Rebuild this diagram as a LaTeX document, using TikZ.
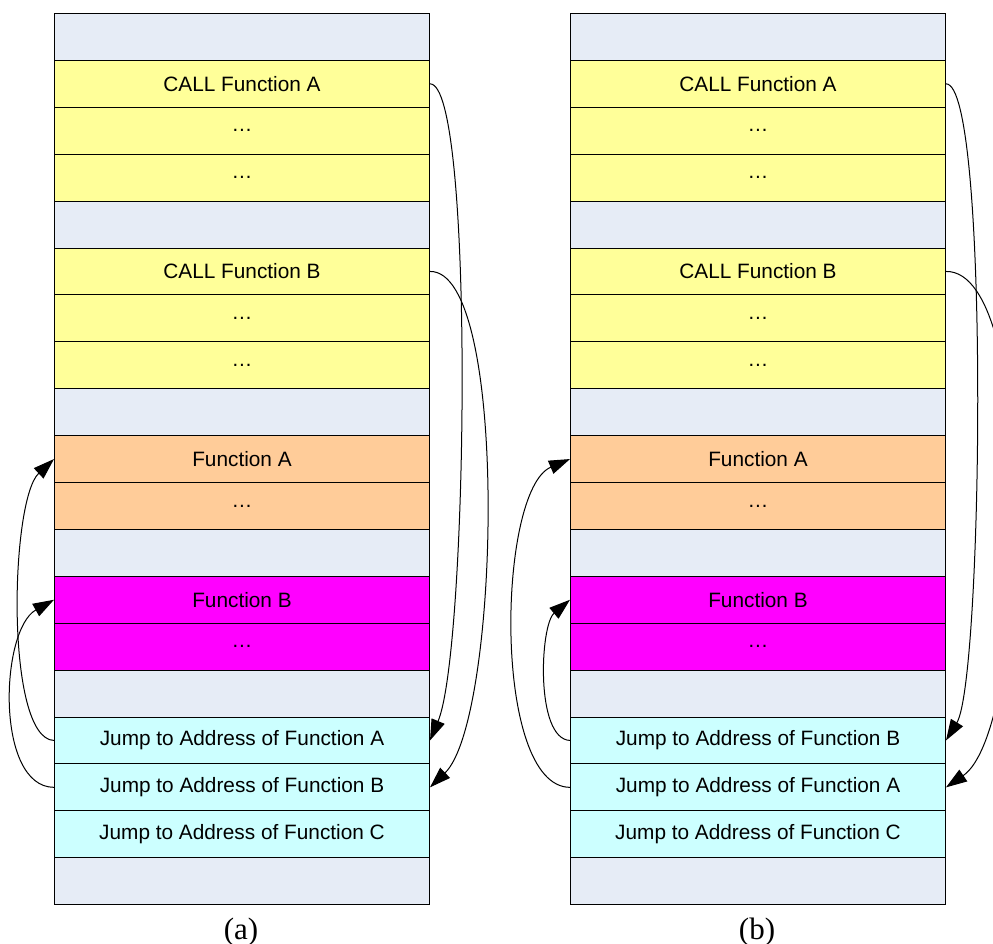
\documentclass[tikz,border=0pt]{standalone}
\usepackage{fontspec}
\setmainfont{Liberation Sans}
\newfontfamily\capserif{Liberation Serif}
\usetikzlibrary{arrows.meta}
\definecolor{blankc}{HTML}{E6ECF6}
\definecolor{callc}{HTML}{FFFF99}
\definecolor{funac}{HTML}{FFCC99}
\definecolor{funbc}{HTML}{FF00FF}
\definecolor{jumpc}{HTML}{CCFFFF}
\begin{document}
\begin{tikzpicture}[x=0.5pt,y=-0.5pt,
  cell/.style={draw=black, line width=0.5pt, minimum width=187.5pt, minimum height=23.45pt,
    inner sep=0pt, anchor=north west, font=\fontsize{10.4}{12}\selectfont},
  conn/.style={draw=black, line width=0.5pt, -{Triangle[length=10.5pt,width=7pt]}},
  caplabel/.style={font=\capserif\fontsize{15.5}{18}\selectfont, anchor=base, inner sep=0pt}]
\useasboundingbox (0,0) rectangle (993,944);
\clip (0,0) rectangle (993,944);
\foreach \col/\x/\jone/\jtwo in {A/54/A/B, B/570/B/A}{
  \foreach \i/\c/\t in {1/blankc/{},2/callc/{CALL Function A},3/callc/{…},4/callc/{…},
    5/blankc/{},6/callc/{CALL Function B},7/callc/{…},8/callc/{…},9/blankc/{},
    10/funac/{Function A},11/funac/{…},12/blankc/{},13/funbc/{Function B},14/funbc/{…},
    15/blankc/{},16/jumpc/{Jump to Address of Function \jone},17/jumpc/{Jump to Address of Function \jtwo},
    18/jumpc/{Jump to Address of Function C},19/blankc/{}}{
    \node[cell, fill=\c] (\col\i) at (\x,{13+(\i-1)*46.9}) {\t};
  }
}
\node[caplabel] (capa) at (241,939) {(a)};
\node[caplabel] (capb) at (757,939) {(b)};
% (a) calls
\draw[conn] (A2.east) .. controls (475,83) and (468,650) .. (A16.east);
\draw[conn] (A6.east) .. controls (510,270) and (500,720) .. (A17.east);
% (a) jumps
\draw[conn] (A16.west) .. controls (5,739) and (10,500) .. (A10.west);
\draw[conn] (A17.west) .. controls (-5,787) and (0,630) .. (A13.west);
% (b) calls
\draw[conn] (B2.east) .. controls (990,83) and (983,680) .. (B16.east);
\draw[conn] (B6.east) .. controls (1040,270) and (1030,730) .. (B17.east);
% (b) jumps
\draw[conn] (B16.west) .. controls (535,739) and (540,625) .. (B13.west);
\draw[conn] (B17.west) .. controls (492,787) and (497,490) .. (B10.west);
\end{tikzpicture}
\end{document}
